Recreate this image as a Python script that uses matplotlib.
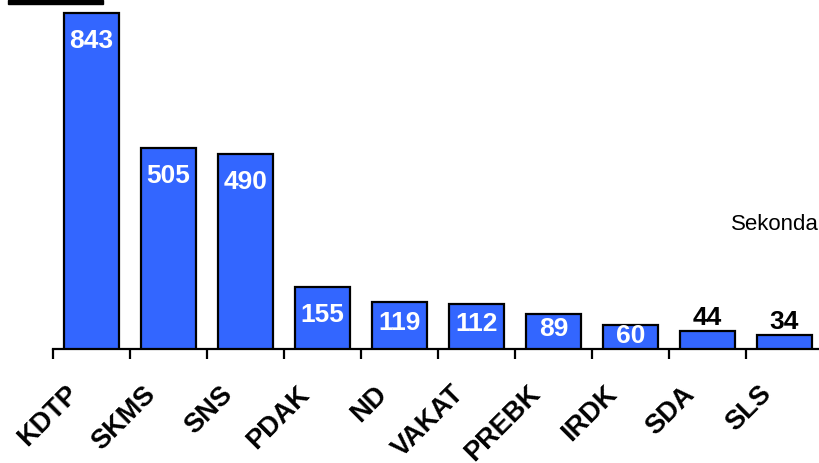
import numpy as np
import matplotlib.pyplot as plt
from matplotlib.patches import Rectangle
from matplotlib.transforms import ScaledTranslation

plt.rcParams['font.family'] = ['Liberation Sans', 'DejaVu Sans']

parties = ["KDTP", "SKMS", "SNS", "PDAK", "ND", "VAKAT", "PREBK", "IRDK", "SDA", "SLS"]
seconds = [843, 505, 490, 155, 119, 112, 89, 60, 44, 34]
unit_label = "Sekonda"

BAR_COLOR = "#3366FF"


def main():
    fig = plt.figure(figsize=(8.19, 4.63), dpi=100)
    # axes from x=53px, baseline at y=349px
    ax = fig.add_axes([53 / 819, 1 - 349 / 463, 770 / 819, 347 / 463])
    x = np.arange(len(parties))
    ax.bar(x, seconds, width=0.72, color=BAR_COLOR, edgecolor="black", linewidth=1.6, zorder=3)
    ax.set_xlim(-0.5, len(parties) - 0.5)
    ax.set_ylim(0, 870)

    for xi, v in zip(x, seconds):
        if v < 50:
            ax.text(xi, v + 4, str(v), ha="center", va="bottom", color="black",
                    fontsize=19, fontweight="bold")
        else:
            y = v - min(72, 0.45 * v)
            ax.text(xi, y, str(v), ha="center", va="center", color="white",
                    fontsize=19, fontweight="bold", zorder=4)

    for s in ["left", "top", "right"]:
        ax.spines[s].set_visible(False)
    ax.spines["bottom"].set_linewidth(1.6)
    ax.set_yticks([])

    ax.set_xticks(x)
    ax.set_xticks(np.arange(len(parties) + 1) - 0.5, minor=True)
    ax.tick_params(axis="x", which="major", length=0, pad=23)
    ax.tick_params(axis="x", which="minor", length=7, width=1.6, direction="out")
    ax.set_xticklabels(parties, rotation=45, ha="right", va="top",
                       rotation_mode="anchor", fontsize=19.5, fontweight="bold")
    offset = ScaledTranslation(-26 / 100, 0, fig.dpi_scale_trans)
    for lbl in ax.get_xticklabels():
        lbl.set_transform(lbl.get_transform() + offset)

    fig.text(819 / 819, 1 - 225 / 463, unit_label, ha="right", va="center", fontsize=16)

    # black strip at the top left
    fig.patches.append(Rectangle((8 / 819, 1 - 4 / 463), 95 / 819, 4 / 463,
                                 transform=fig.transFigure, color="black"))

    fig.savefig("out.png", dpi=100)


if __name__ == "__main__":
    main()
